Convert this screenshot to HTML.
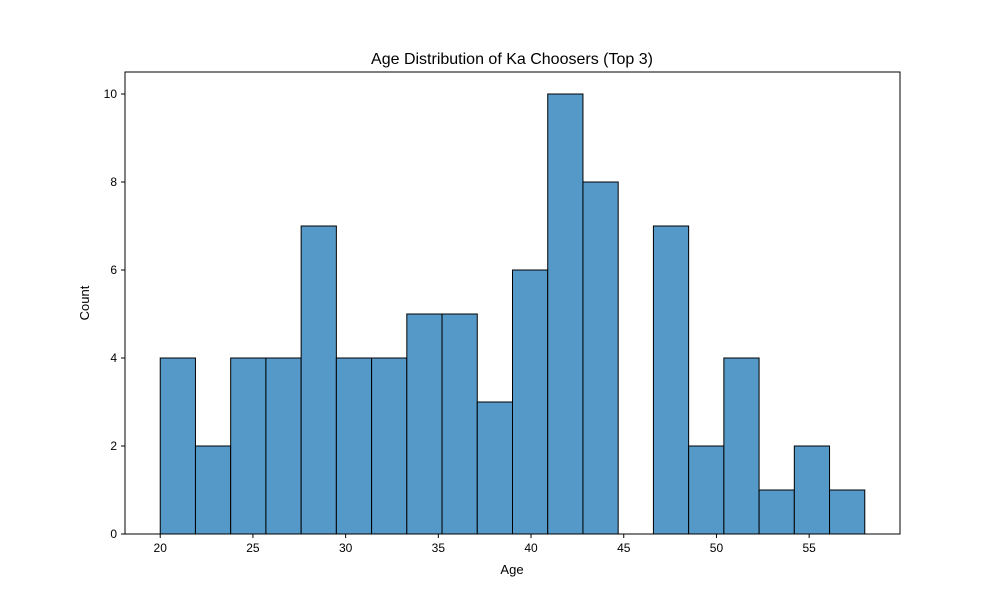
<!DOCTYPE html>
<html><head><meta charset="utf-8"><style>
body{margin:0;background:#fff;font-family:"Liberation Sans","DejaVu Sans",sans-serif}
</style></head><body>
<svg width="1000" height="600" xmlns="http://www.w3.org/2000/svg">
<rect width="1000" height="600" fill="#fff"/>
<text x="512" y="64" text-anchor="middle" font-size="16">Age Distribution of Ka Choosers (Top 3)</text>
<g id="bars"></g>
<g id="axes"></g>
<rect x="125" y="72" width="775" height="462" fill="none" stroke="#000" stroke-width="1"/>
<text x="512" y="574" text-anchor="middle" font-size="13">Age</text>
<text transform="translate(89,303) rotate(-90)" text-anchor="middle" font-size="13">Count</text>
</svg>
<script>
const binStart = 20;
const binEnd = 58;
const counts = [4,2,4,4,7,4,4,5,5,3,6,10,8,0,7,2,4,1,2,1];
const xTicks = [20,25,30,35,40,45,50,55];
const yTicks = [0,2,4,6,8,10];
const NS="http://www.w3.org/2000/svg";
const L=125,R=900,T=72,B=534;
const xmin=18.1,xmax=59.9,ymax=10.5;
const xs=v=>L+(v-xmin)/(xmax-xmin)*(R-L);
const ys=v=>B-v/ymax*(B-T);
const bw=(binEnd-binStart)/counts.length;
const bars=document.getElementById('bars');
counts.forEach((c,i)=>{
 if(c<=0) return;
 const r=document.createElementNS(NS,'rect');
 const x0=xs(binStart+i*bw),x1=xs(binStart+(i+1)*bw);
 r.setAttribute('x',x0);r.setAttribute('width',x1-x0);
 r.setAttribute('y',ys(c));r.setAttribute('height',ys(0)-ys(c));
 r.setAttribute('fill','#5599c8');r.setAttribute('stroke','#000');r.setAttribute('stroke-width','1');
 
 
 bars.appendChild(r);
});
const ax=document.getElementById('axes');
xTicks.forEach(t=>{
 const l=document.createElementNS(NS,'line');
 l.setAttribute('x1',xs(t));l.setAttribute('x2',xs(t));l.setAttribute('y1',B);l.setAttribute('y2',B+4);l.setAttribute('stroke','#000');
 
 
 ax.appendChild(l);
 const tx=document.createElementNS(NS,'text');
 tx.setAttribute('x',xs(t));tx.setAttribute('y',B+18);tx.setAttribute('text-anchor','middle');tx.setAttribute('font-size','12');
 tx.textContent=t;
 
 
 ax.appendChild(tx);
});
yTicks.forEach(t=>{
 const l=document.createElementNS(NS,'line');
 l.setAttribute('x1',L-4);l.setAttribute('x2',L);l.setAttribute('y1',ys(t));l.setAttribute('y2',ys(t));l.setAttribute('stroke','#000');
 
 
 ax.appendChild(l);
 const tx=document.createElementNS(NS,'text');
 tx.setAttribute('x',L-8);tx.setAttribute('y',ys(t)+4);tx.setAttribute('text-anchor','end');tx.setAttribute('font-size','12');
 tx.textContent=t;
 
 
 ax.appendChild(tx);
});
</script>
</body></html>
